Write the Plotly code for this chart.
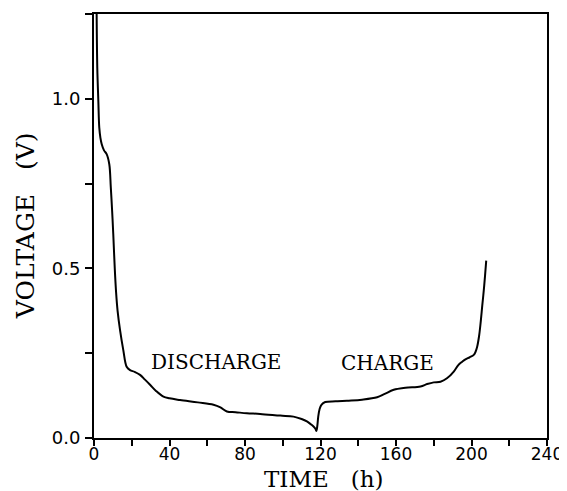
import plotly.graph_objects as go

# Discharge / charge voltage curve
time_h = [1.4, 1.75, 2.3, 2.8, 3.4, 4.1, 5.3, 6.7, 8.1, 8.9, 9.6, 10.2, 11.0, 11.7,
          12.5, 13.8, 15.5, 17.3, 19.1, 21.5, 24.4, 27.0, 29.7, 33.0, 36.8, 40.0,
          45.6, 55.0, 63.3, 67.0, 70.4, 75.0, 81.0, 88.0, 98.7, 105.7, 110.0,
          112.8, 115.0, 116.3, 117.3, 117.8, 118.3, 118.8, 119.5, 120.5, 122.5,
          128.0, 134.0, 142.0, 150.0, 154.0, 158.8, 165.0, 173.0, 176.5, 180.0,
          183.6, 187.0, 190.6, 193.0, 195.1, 196.8, 199.0, 201.2, 202.2, 203.0,
          204.0, 204.8, 205.7, 206.5, 207.2, 207.8]
voltage_v = [1.25, 1.09, 0.993, 0.915, 0.885, 0.866, 0.848, 0.837, 0.807, 0.739,
             0.67, 0.602, 0.50, 0.43, 0.375, 0.318, 0.26, 0.21, 0.20, 0.195, 0.186,
             0.172, 0.157, 0.138, 0.122, 0.117, 0.112, 0.105, 0.098, 0.09, 0.078,
             0.076, 0.073, 0.071, 0.066, 0.063, 0.056, 0.049, 0.040, 0.034, 0.027,
             0.021, 0.035, 0.063, 0.085, 0.098, 0.106, 0.108, 0.110, 0.113, 0.12,
             0.13, 0.142, 0.148, 0.152, 0.159, 0.164, 0.166, 0.176, 0.196, 0.215,
             0.225, 0.232, 0.238, 0.245, 0.255, 0.269, 0.30, 0.338, 0.39, 0.435,
             0.48, 0.523]

label_text = ["DISCHARGE", "CHARGE"]
label_t = [64.7, 155.3]
label_v = [0.224, 0.220]

x_title = "TIME\u00a0\u00a0\u00a0(h)"
y_title = "VOLTAGE\u00a0\u00a0\u00a0(V)"

# page is offset by the default 8px body margin
OFF = 8
W, H = 567 - OFF, 491 - OFF
L, T = 94 - OFF, 12 - OFF
R = W - (548 - OFF)
B = H - (438 - OFF)
pw, ph = W - L - R, H - T - B


def px_to_paper(xp, yp):
    return ((xp - OFF) - L) / pw, (H - B - (yp - OFF)) / ph


fig = go.Figure()
fig.add_trace(go.Scatter(x=time_h, y=voltage_v, mode="lines",
                         line=dict(color="black", width=2), line_shape="spline",
                         showlegend=False, hoverinfo="skip"))

for txt, tx, vy in zip(label_text, label_t, label_v):
    fig.add_annotation(x=tx, y=vy, xref="x", yref="y", text=txt, showarrow=False,
                       xanchor="center", yanchor="middle",
                       font=dict(family="DejaVu Serif", size=20, color="black"))

xt_x, xt_y = px_to_paper(324, 479)
fig.add_annotation(x=xt_x, y=xt_y, xref="paper", yref="paper", text=x_title,
                   showarrow=False, xanchor="center", yanchor="middle",
                   font=dict(family="DejaVu Serif", size=23, color="black"))
yt_x, yt_y = px_to_paper(25, 225)
fig.add_annotation(x=yt_x, y=yt_y, xref="paper", yref="paper", text=y_title,
                   showarrow=False, textangle=-90, xanchor="center", yanchor="middle",
                   font=dict(family="DejaVu Serif", size=25, color="black"))

fig.update_layout(
    width=W, height=H,
    margin=dict(l=L, r=R, t=T, b=B, pad=0),
    paper_bgcolor="white", plot_bgcolor="white",
    font=dict(family="DejaVu Sans", size=18, color="black"),
    xaxis=dict(range=[0, 240], tick0=0, dtick=40, ticks="outside", ticklen=6,
               tickwidth=1.5, tickcolor="black", ticklabelstandoff=-6,
               tickfont=dict(size=17),
               minor=dict(dtick=20, ticks="outside", ticklen=6, tickwidth=1.5,
                          tickcolor="black", showgrid=False),
               showline=True, linecolor="black", linewidth=2, mirror=True,
               showgrid=False, zeroline=False, fixedrange=True),
    yaxis=dict(range=[0, 1.25], tick0=0, dtick=0.5, tickformat=".1f",
               ticks="outside", ticklen=7, tickwidth=1.5, tickcolor="black",
               minor=dict(dtick=0.25, ticks="outside", ticklen=7, tickwidth=1.5,
                          tickcolor="black", showgrid=False),
               ticklabelstandoff=1,
               showline=True, linecolor="black", linewidth=2, mirror=True,
               showgrid=False, zeroline=False, fixedrange=True),
)

fig.write_html("out.html")
